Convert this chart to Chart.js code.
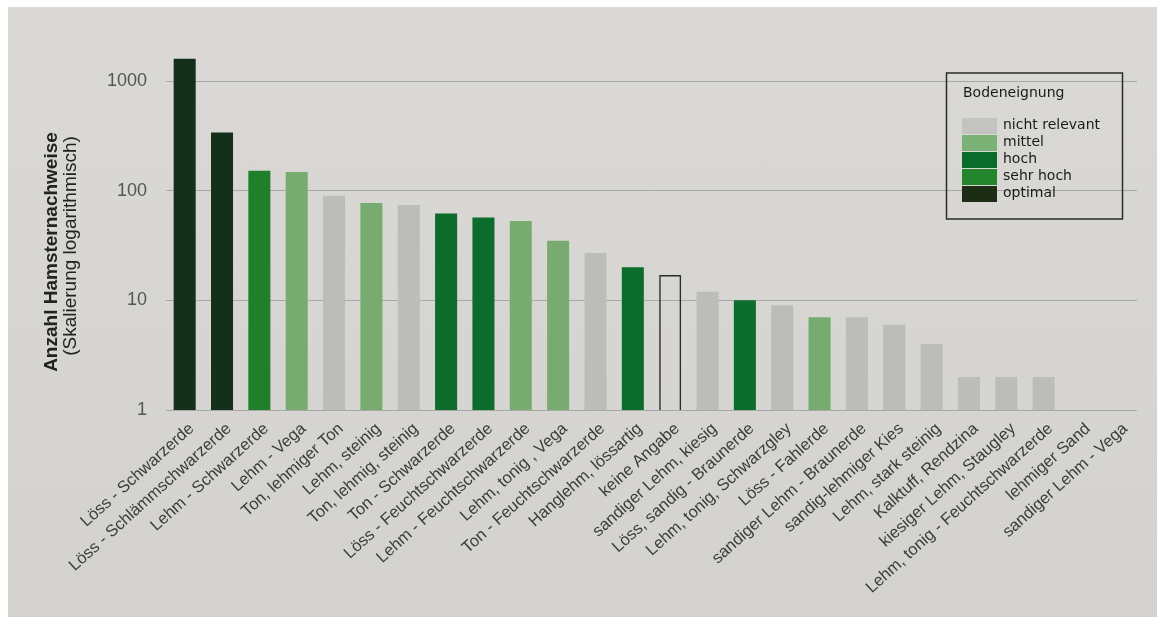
<!DOCTYPE html>
<html>
<head>
<meta charset="utf-8">
<script src="https://cdn.jsdelivr.net/npm/chart.js@4.4.1/dist/chart.umd.min.js"></script>
<style>
  html, body { margin: 0; padding: 0; background: #fff; }
  #paper {
    position: absolute; left: 8px; top: 7px; width: 1149px; height: 610px;
    background: linear-gradient(180deg, #dbd9d6 0%, #d3d2cf 100%);
  }
  canvas { display: block; }
</style>
</head>
<body>
<div id="paper"><canvas id="chart" width="1149" height="610"></canvas></div>
<script>
// Bodentypen, nach Anzahl der Nachweise sortiert
const soilTypes = [
  'Löss - Schwarzerde', 'Löss - Schlämmschwarzerde', 'Lehm - Schwarzerde', 'Lehm - Vega',
  'Ton, lehmiger Ton', 'Lehm, steinig', 'Ton, lehmig, steinig', 'Ton - Schwarzerde',
  'Löss - Feuchtschwarzerde', 'Lehm - Feuchtschwarzerde', 'Lehm, tonig , Vega',
  'Ton - Feuchtschwarzerde', 'Hanglehm, lössartig', 'keine Angabe', 'sandiger Lehm, kiesig',
  'Löss, sandig - Braunerde', 'Lehm, tonig, Schwarzgley', 'Löss - Fahlerde',
  'sandiger Lehm - Braunerde', 'sandig-lehmiger Kies', 'Lehm, stark steinig',
  'Kalktuff, Rendzina', 'kiesiger Lehm, Staugley', 'Lehm, tonig - Feuchtschwarzerde',
  'lehmiger Sand', 'sandiger Lehm - Vega'
];
const hamsterCounts = [1600, 340, 152, 148, 90, 77, 74, 62, 57, 53, 35, 27, 20, 17, 12, 10, 9, 7, 7, 6, 4, 2, 2, 2, 0, 0];
const suitability = [
  'optimal', 'optimal', 'sehr hoch', 'mittel', 'nicht relevant', 'mittel', 'nicht relevant',
  'hoch', 'hoch', 'mittel', 'mittel', 'nicht relevant', 'hoch', 'keine Angabe',
  'nicht relevant', 'hoch', 'nicht relevant', 'mittel', 'nicht relevant', 'nicht relevant',
  'nicht relevant', 'nicht relevant', 'nicht relevant', 'nicht relevant', 'nicht relevant',
  'nicht relevant'
];
const yTicks = [1, 10, 100, 1000];

const legendTitle = 'Bodeneignung';
const legendLabels = ['nicht relevant', 'mittel', 'hoch', 'sehr hoch', 'optimal'];
const legendColors = ['#c3c3c1', '#7db276', '#0b6b2b', '#24862c', '#1c2c15'];

const axisTitle = 'Anzahl Hamsternachweise';
const axisSubtitle = '(Skalierung logarithmisch)';

const barFill = {
  'nicht relevant': '#bcbcba',
  'mittel': '#78ab70',
  'hoch': '#0b6c2b',
  'sehr hoch': '#1f7f2a',
  'optimal': '#15301a',
  'keine Angabe': 'rgba(0,0,0,0)'
};

// legend box and the two-line y axis title
const extras = {
  id: 'extras',
  afterDraw(chart) {
    const ctx = chart.ctx;
    ctx.save();
    ctx.fillStyle = '#222';
    ctx.textAlign = 'center';
    ctx.textBaseline = 'middle';
    ctx.translate(44, 245);
    ctx.rotate(-Math.PI / 2);
    ctx.font = 'bold 19px "Liberation Sans", Arial, sans-serif';
    ctx.fillText(axisTitle, 0, 0);
    ctx.font = '19px "Liberation Sans", Arial, sans-serif';
    ctx.fillText(axisSubtitle, 6, 19);
    ctx.restore();

    ctx.save();
    ctx.strokeStyle = '#2a2a2a';
    ctx.lineWidth = 1.5;
    ctx.strokeRect(938.5, 66, 176, 146);
    ctx.fillStyle = '#1a1a1a';
    ctx.textBaseline = 'middle';
    ctx.font = '14px "DejaVu Sans", sans-serif';
    ctx.fillText(legendTitle, 955, 86);
    legendLabels.forEach((lab, i) => {
      const y = 111 + i * 17;
      ctx.fillStyle = legendColors[i];
      ctx.fillRect(954, y, 35, 16);
      ctx.fillStyle = '#1a1a1a';
      ctx.fillText(lab, 995, y + 7);
    });
    ctx.restore();
  }
};

new Chart(document.getElementById('chart'), {
  type: 'bar',
  data: {
    labels: soilTypes,
    datasets: [{
      data: hamsterCounts,
      backgroundColor: suitability.map(s => barFill[s]),
      borderColor: suitability.map(s => s === 'keine Angabe' ? '#2b2b2b' : 'rgba(0,0,0,0)'),
      borderWidth: suitability.map(s => s === 'keine Angabe' ? 1.5 : 0),
      barPercentage: 0.59,
      categoryPercentage: 1
    }]
  },
  options: {
    responsive: false,
    animation: false,
    layout: { padding: { top: 41, right: 20, left: 33, bottom: 0 } },
    plugins: {
      legend: { display: false },
      tooltip: { enabled: false }
    },
    scales: {
      x: {
        grid: { display: false },
        border: { display: false },
        ticks: {
          autoSkip: false,
          minRotation: 42,
          maxRotation: 42,
          padding: 1,
          labelOffset: 7,
          color: '#3b3b3b',
          font: { family: '"Liberation Sans", Arial, sans-serif', size: 16.5 }
        },
        afterFit(scale) { scale.height = 207; }
      },
      y: {
        type: 'logarithmic',
        min: 1,
        max: 2000,
        border: { display: false },
        grid: { color: '#a8a8a6', lineWidth: 1, drawTicks: false },
        ticks: {
          autoSkip: false,
          padding: 19,
          color: '#555',
          font: { family: '"Liberation Sans", Arial, sans-serif', size: 18 },
          callback: v => String(v)
        },
        afterBuildTicks(scale) { scale.ticks = yTicks.map(v => ({ value: v })); },
        afterFit(scale) { scale.width = 125; }
      }
    }
  },
  plugins: [extras]
});
</script>
</body>
</html>
